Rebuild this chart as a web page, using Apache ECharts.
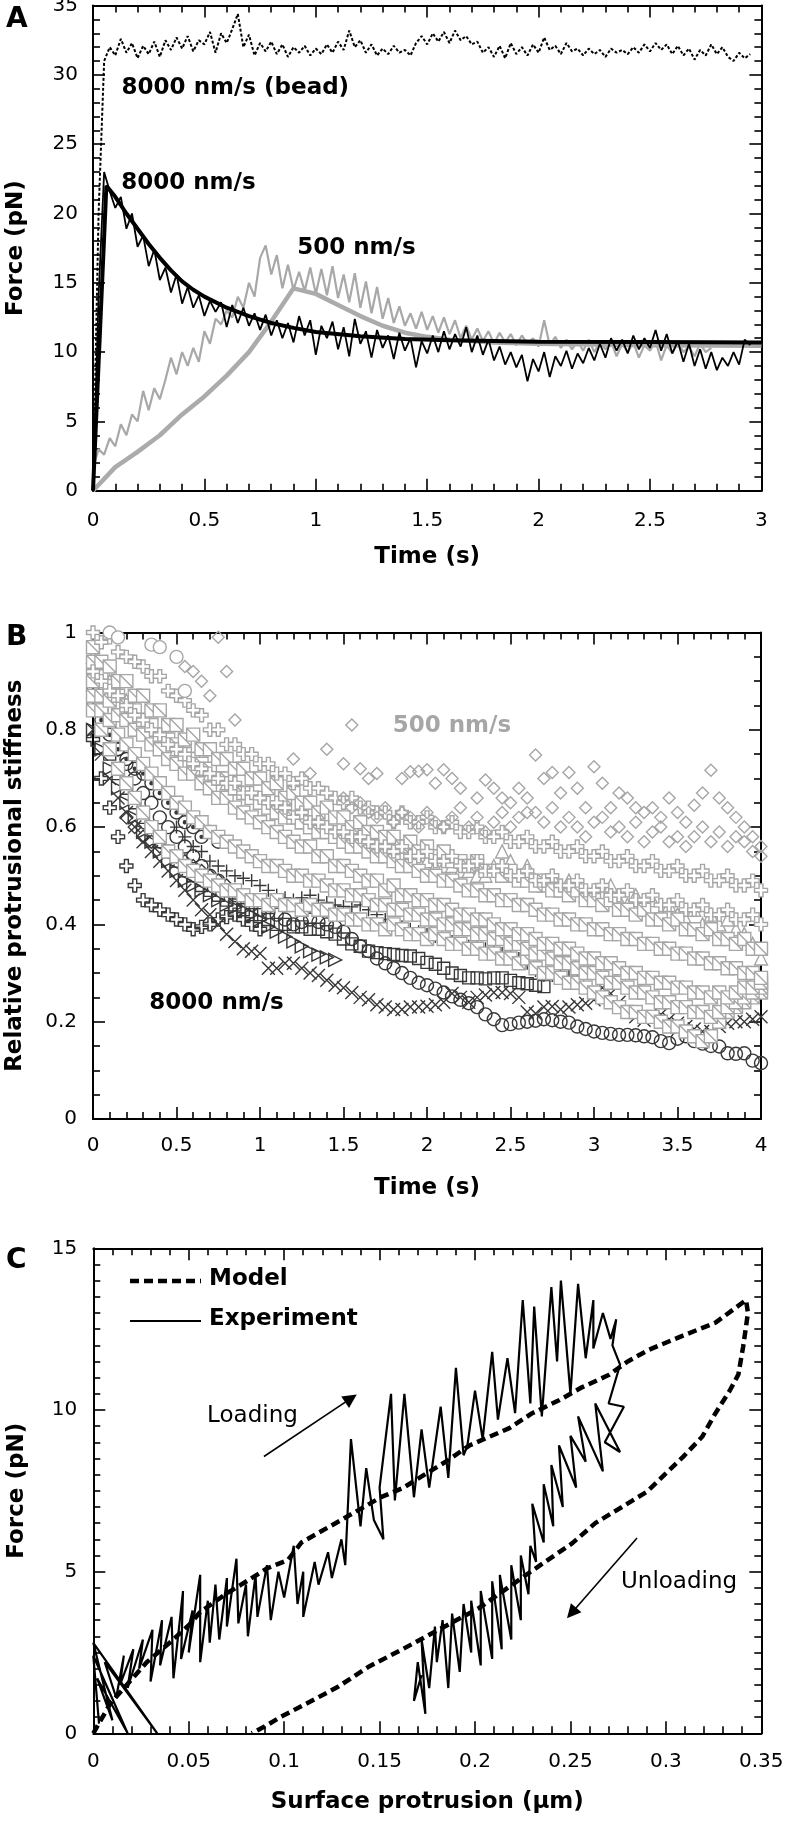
<!DOCTYPE html>
<html><head><meta charset="utf-8">
<script src="https://cdn.jsdelivr.net/npm/echarts@6/dist/echarts.min.js"></script>
<style>html,body{margin:0;padding:0;background:#fff}#c{width:786px;height:1822px}</style>
</head><body><div id="c"></div>
<script>
// ---------------- Panel A data ----------------
const tA = [0,0.025,0.05,0.075,0.1,0.125,0.15,0.175,0.2,0.225,
0.25,0.275,0.3,0.325,0.35,0.375,0.4,0.425,0.45,0.475,
0.5,0.525,0.55,0.575,0.6,0.625,0.65,0.675,0.7,0.725,
0.75,0.775,0.8,0.825,0.85,0.875,0.9,0.925,0.95,0.975,
1,1.025,1.05,1.075,1.1,1.125,1.15,1.175,1.2,1.225,
1.25,1.275,1.3,1.325,1.35,1.375,1.4,1.425,1.45,1.475,
1.5,1.525,1.55,1.575,1.6,1.625,1.65,1.675,1.7,1.725,
1.75,1.775,1.8,1.825,1.85,1.875,1.9,1.925,1.95,1.975,
2,2.025,2.05,2.075,2.1,2.125,2.15,2.175,2.2,2.225,
2.25,2.275,2.3,2.325,2.35,2.375,2.4,2.425,2.45,2.475,
2.5,2.525,2.55,2.575,2.6,2.625,2.65,2.675,2.7,2.725,
2.75,2.775,2.8,2.825,2.85,2.875,2.9,2.925,2.95];
const beadF = [0,20,31.0,32.0,31.4,32.6,31.6,32.3,31.2,32.1,
31.5,32.4,31.3,32.5,31.8,32.7,31.9,32.8,31.7,32.5,
32.2,33.1,31.6,33.0,32.3,33.3,34.4,32.0,32.9,31.4,
32.3,31.7,32.4,31.5,32.2,31.3,32.0,31.6,32.1,31.4,
31.9,31.5,32.2,31.6,32.4,31.8,33.2,32.0,32.5,31.6,
32.2,31.4,31.9,31.5,32.1,31.6,31.8,31.4,32.3,32.8,
32.2,33.0,32.4,33.1,32.3,33.2,32.5,32.8,32.2,32.4,
31.6,32.0,31.3,32.1,31.2,32.3,31.5,32.0,31.4,32.2,
31.6,32.7,31.8,32.1,31.5,32.3,31.7,31.9,31.4,31.9,
31.5,31.8,31.3,31.9,31.6,31.8,31.5,32.0,31.6,32.2,
31.7,32.3,31.8,32.2,31.5,32.1,31.4,31.9,31.1,31.8,
31.4,32.2,31.5,32.0,31.3,31.0,31.6,31.2,31.5];
const exp8000F = [0,14,23.0,21.6,20.4,21.2,18.9,20.0,17.6,18.4,
16.2,17.4,15.2,16.1,14.3,15.6,13.5,14.7,13.2,14.1,
12.6,13.7,12.9,13.6,11.8,13.4,12.1,13.2,11.9,12.8,
11.6,12.7,11.2,12.3,11.0,12.1,10.7,12.6,11.2,12.3,
9.8,11.9,11.0,12.2,10.2,11.8,9.7,12.4,10.6,11.5,
9.6,11.6,10.3,11.2,9.5,11.4,10.1,11.0,8.9,10.8,
9.9,11.2,10.0,11.5,10.2,11.3,10.4,11.8,10.0,11.2,
9.8,10.9,9.4,10.4,9.1,10.0,8.9,9.8,7.9,9.5,
8.6,10.0,8.2,9.7,9.0,10.1,8.8,9.9,9.2,10.3,
9.4,10.6,9.6,11.0,10.1,10.9,9.9,11.2,10.2,11.0,
10.3,11.6,10.1,11.3,9.9,10.8,9.3,10.6,9.0,10.2,
8.8,10.0,8.7,9.6,9.0,10.0,9.1,10.9,10.5];
const exp500F = [1.6,3.0,2.6,3.8,3.2,4.8,4.0,5.5,5.0,7.2,
5.8,7.4,6.6,8.0,9.6,8.4,10.0,9.0,10.3,9.3,
11.5,10.6,12.4,12.0,13.0,12.5,14.0,13.2,15.0,14.0,
16.8,17.7,15.6,17.0,14.6,16.3,14.5,15.8,14.4,16.1,
14.2,16.0,14.1,16.2,13.9,15.6,13.6,15.7,13.2,15.1,
12.8,14.7,12.4,13.9,12.1,13.3,11.9,12.8,11.7,12.9,
11.6,12.6,11.4,12.5,11.3,12.3,11.0,11.9,10.9,11.7,
10.8,11.5,10.6,11.4,10.7,11.3,10.5,11.2,10.6,11.0,
10.4,12.3,10.5,11.1,10.3,10.9,10.2,10.8,10.1,10.9,
10.0,10.7,10.2,10.8,9.7,10.6,10.0,10.7,9.6,10.5,
10.1,10.8,9.4,10.5,9.9,10.7,10.0,10.4,9.7,10.6,
10.0,10.3];
const fit8000T = [0,0.06,0.1,0.15,0.2,0.25,0.3,0.35,0.4,0.45,0.5,0.6,0.7,0.8,0.9,1.0,1.2,1.4,1.6,1.8,2.0,2.5,3.0];
const fit8000F = [0,22.0,21.2,20.0,18.9,17.8,16.8,15.9,15.1,14.5,14.0,13.2,12.6,12.1,11.75,11.45,11.15,10.95,10.85,10.8,10.75,10.72,10.7];
const fit500T = [0,0.1,0.2,0.3,0.4,0.5,0.6,0.7,0.8,0.9,1.0,1.1,1.2,1.3,1.4,1.5,1.6,1.8,2.0,2.5,3.0];
const fit500F = [0,1.7,2.8,4.0,5.5,6.8,8.3,10.0,12.2,14.6,14.2,13.4,12.6,11.9,11.4,11.1,10.9,10.7,10.6,10.5,10.45];

// ---------------- Panel B data ----------------
const tB = [0,0.05,0.1,0.15,0.2,0.25,0.3,0.35,0.4,0.45,0.5,0.55,0.6,0.65,0.7,0.75,0.8,0.85,0.9,0.95,
1,1.05,1.1,1.15,1.2,1.25,1.3,1.35,1.4,1.45,1.5,1.55,1.6,1.65,1.7,1.75,1.8,1.85,1.9,1.95,
2,2.05,2.1,2.15,2.2,2.25,2.3,2.35,2.4,2.45,2.5,2.55,2.6,2.65,2.7,2.75,2.8,2.85,2.9,2.95,
3,3.05,3.1,3.15,3.2,3.25,3.3,3.35,3.4,3.45,3.5,3.55,3.6,3.65,3.7,3.75,3.8,3.85,3.9,3.95,4];
// 8000 nm/s (dark)
const dCircle = [0.88,0.84,0.80,0.76,0.73,0.70,0.67,0.65,0.62,0.60,
0.58,0.56,0.54,0.52,0.50,0.49,0.47,0.46,0.45,0.44,
0.43,0.425,0.42,0.41,0.40,0.405,0.41,0.405,0.40,0.395,
0.385,0.37,0.355,0.345,0.33,0.32,0.31,0.30,0.29,0.28,
0.275,0.268,0.26,0.252,0.245,0.238,0.23,0.215,0.205,0.193,
0.195,0.198,0.20,0.202,0.205,0.203,0.20,0.198,0.19,0.185,
0.18,0.177,0.175,0.173,0.173,0.172,0.17,0.168,0.16,0.156,
0.165,0.17,0.16,0.155,0.15,0.149,0.135,0.134,0.135,0.12,0.115];
const dCircleDot = [null,0.82,0.79,0.76,0.74,0.72,0.71,0.69,0.67,0.65,0.63,0.61,0.60,0.58,0.59,0.57];
const dCross = [0.80,0.75,0.70,0.66,0.63,0.60,0.57,0.55,0.53,0.51,
0.49,0.47,0.45,0.43,0.42,0.40,0.38,0.365,0.35,0.345,
0.34,0.31,0.31,0.32,0.32,0.31,0.30,0.295,0.285,0.275,
0.27,0.26,0.25,0.245,0.235,0.23,0.225,0.225,0.23,0.23,
0.232,0.235,0.24,0.258,0.25,0.24,0.25,0.255,0.26,0.26,
0.258,0.25,0.22,0.217,0.23,0.231,0.225,0.23,0.235,0.238,
0.245,0.27,0.258,0.24,0.22,0.21,0.203,0.21,0.215,0.205,
0.197,0.19,0.185,0.18,0.18,0.19,0.197,0.20,0.20,0.205,0.21];
const dSquare = [0.85,0.80,0.75,0.71,0.68,0.65,0.62,0.60,0.57,0.55,
0.53,0.51,0.50,0.48,0.47,0.46,0.45,0.44,0.43,0.42,
0.42,0.41,0.40,0.40,0.395,0.395,0.39,0.39,0.385,0.38,
0.37,0.36,0.355,0.345,0.342,0.34,0.338,0.336,0.335,0.33,
0.322,0.318,0.31,0.30,0.295,0.29,0.29,0.288,0.29,0.29,
0.285,0.28,0.278,0.275,0.272];
const dTriangle = [0.80,0.76,0.72,0.68,0.65,0.62,0.59,0.57,0.55,0.53,
0.51,0.49,0.48,0.47,0.46,0.45,0.44,0.435,0.43,0.42,
0.41,0.395,0.385,0.375,0.365,0.355,0.345,0.338,0.332,0.327];
const dOpenPlus = [0.78,0.70,0.64,0.58,0.52,0.48,0.45,0.44,0.43,0.42,
0.41,0.40,0.39,0.395,0.40,0.41,0.415,0.42,0.41,0.40,0.39];
const dPlus = [null,null,null,null,null,null,null,null,null,null,
0.60,0.58,0.56,0.55,0.53,0.52,0.51,0.50,0.495,0.49,
0.48,0.47,0.46,0.455,0.45,0.455,0.46,0.45,0.445,0.44,
0.437,0.436,0.44,0.43,0.42,0.41,0.40,0.395,0.39,0.385,
0.38,0.375,0.37,0.365,0.36,0.355,0.352,0.35,0.343,0.34,
0.34,0.33,0.32,0.305,0.295,0.295,0.295,0.293,0.29];
const dDiamond = [null,null,null,null,0.62,0.60,0.58,0.57,0.56,0.55,
0.54,0.53,0.52,0.51,0.50,0.49,0.48,0.47,0.46];
// 500 nm/s (gray)
const gPlusHi = [1.00,0.98,0.99,0.96,0.95,0.94,0.93,0.91,0.91,0.88,
0.87,0.86,0.84,0.83,0.80,0.80,0.77,0.77,0.75,0.75,
0.73,0.73,0.71,0.71,0.69,0.70,0.68,0.68,0.67,0.66,
0.65,0.66,0.64,0.64,0.63,0.63,0.61,0.63,0.61,0.61,
0.62,0.60,0.60,0.61,0.59,0.59,0.60,0.58,0.58,0.59,
0.57,0.57,0.58,0.56,0.56,0.57,0.55,0.55,0.56,0.54,
0.54,0.55,0.53,0.53,0.54,0.52,0.52,0.53,0.51,0.51,
0.52,0.50,0.50,0.51,0.49,0.49,0.50,0.48,0.48,0.49,0.47];
const gPlusLo = [0.92,0.90,0.88,0.87,0.85,0.83,0.82,0.80,0.79,0.77,
0.76,0.75,0.73,0.72,0.71,0.70,0.69,0.69,0.67,0.67,
0.66,0.65,0.65,0.64,0.62,0.63,0.61,0.61,0.60,0.59,
0.59,0.58,0.58,0.57,0.56,0.56,0.55,0.56,0.54,0.54,
0.55,0.53,0.53,0.54,0.52,0.52,0.53,0.51,0.51,0.52,
0.50,0.50,0.51,0.49,0.49,0.50,0.48,0.48,0.49,0.47,
0.47,0.48,0.46,0.46,0.47,0.45,0.45,0.46,0.44,0.44,
0.45,0.43,0.43,0.44,0.42,0.42,0.43,0.41,0.41,0.42,0.40];
const gSquareA = [0.97,0.94,0.93,0.90,0.90,0.87,0.87,0.84,0.84,0.81,
0.81,0.78,0.79,0.76,0.76,0.74,0.74,0.72,0.72,0.70,
0.70,0.68,0.69,0.66,0.67,0.65,0.65,0.63,0.64,0.62,
0.62,0.60,0.61,0.59,0.59,0.58,0.58,0.56,0.57,0.55,
0.56,0.54,0.55,0.53,0.53,0.52,0.53,0.51,0.51,0.50,
0.51,0.49,0.49,0.48,0.49,0.47,0.47,0.46,0.47,0.45,
0.45,0.44,0.45,0.43,0.43,0.42,0.43,0.41,0.41,0.40,
0.41,0.39,0.39,0.38,0.39,0.37,0.37,0.36,0.37,0.35,0.35];
const gSquareE = [0.94,0.91,0.89,0.87,0.85,0.84,0.82,0.81,0.79,0.78,
0.77,0.75,0.74,0.73,0.72,0.70,0.70,0.68,0.67,0.66,
0.65,0.64,0.63,0.62,0.62,0.61,0.60,0.59,0.59,0.58,
0.57,0.56,0.56,0.55,0.54,0.54,0.53,0.52,0.52,0.51,
0.50,0.50,0.49,0.49,0.48,0.47,0.47,0.46,0.46,0.45,
0.45,0.44,0.44,0.43,0.42,0.42,0.41,0.41,0.40,0.40,
0.39,0.39,0.38,0.38,0.37,0.37,0.36,0.36,0.35,0.35,
0.34,0.34,0.33,0.33,0.32,0.32,0.31,0.31,0.30,0.30,0.29];
const gSquareB = [0.90,0.87,0.86,0.83,0.82,0.80,0.79,0.77,0.76,0.74,
0.73,0.71,0.71,0.69,0.68,0.66,0.66,0.64,0.63,0.62,
0.61,0.60,0.59,0.58,0.57,0.56,0.56,0.54,0.54,0.52,
0.52,0.51,0.50,0.49,0.49,0.47,0.48,0.46,0.46,0.45,
0.45,0.44,0.44,0.43,0.42,0.42,0.41,0.41,0.40,0.39,
0.39,0.38,0.38,0.37,0.36,0.36,0.35,0.35,0.34,0.33,
0.33,0.32,0.32,0.31,0.30,0.30,0.29,0.29,0.28,0.28,
0.27,0.27,0.26,0.26,0.25,0.26,0.25,0.26,0.27,0.27,0.28];
const gSquareD = [0.87,0.84,0.82,0.79,0.77,0.75,0.73,0.71,0.69,0.67,
0.65,0.64,0.62,0.61,0.59,0.58,0.57,0.56,0.55,0.54,
0.53,0.52,0.52,0.51,0.50,0.50,0.49,0.49,0.48,0.47,
0.47,0.46,0.46,0.45,0.44,0.44,0.43,0.43,0.42,0.42,
0.41,0.41,0.40,0.40,0.39,0.39,0.38,0.38,0.37,0.37,
0.36,0.36,0.35,0.34,0.34,0.33,0.32,0.32,0.31,0.30,
0.30,0.29,0.28,0.28,0.27,0.26,0.26,0.25,0.24,0.24,
0.23,0.23,0.22,0.22,0.21,0.22,0.23,0.24,0.25,0.26,0.27];
const gSquareC = [0.84,0.80,0.76,0.72,0.69,0.66,0.63,0.60,0.58,0.55,
0.54,0.52,0.51,0.50,0.49,0.48,0.47,0.47,0.46,0.45,
0.45,0.44,0.45,0.44,0.44,0.43,0.44,0.43,0.43,0.42,
0.42,0.41,0.41,0.40,0.40,0.39,0.40,0.39,0.38,0.38,
0.37,0.38,0.37,0.36,0.36,0.35,0.35,0.34,0.34,0.33,
0.33,0.32,0.33,0.31,0.30,0.30,0.29,0.28,0.28,0.27,
0.26,0.25,0.24,0.23,0.22,0.22,0.21,0.21,0.20,0.19,
0.19,0.18,0.17,0.16,0.17,0.20,0.22,0.23,0.24,0.25,0.26];
const gTriangle = [0.95,0.92,0.90,0.88,0.86,0.84,0.82,0.81,0.79,0.78,
0.76,0.75,0.74,0.72,0.71,0.70,0.69,0.68,0.67,0.66,
0.65,0.64,0.63,0.63,0.62,0.61,0.60,0.60,0.59,0.58,
0.58,0.57,0.57,0.56,0.56,0.55,0.55,0.54,0.54,0.53,
0.53,0.52,0.52,0.52,0.51,0.51,0.50,0.50,0.52,0.55,
0.53,0.50,0.52,0.49,0.48,0.50,0.47,0.49,0.48,0.46,
0.47,0.46,0.48,0.45,0.44,0.46,0.43,0.45,0.42,0.44,
0.42,0.41,0.43,0.40,0.42,0.40,0.41,0.39,0.38,0.36,0.33];
const gCircle = [null,null,1.0,0.99,null,null,null,0.975,0.97,null,0.95,0.88];
const gDiamondHi = [null,null,null,null,null,null,null,null,null,null,
null,0.93,0.92,0.90,0.87,0.99,0.92,0.82,null,null,
null,null,null,null,0.74,null,0.71,null,0.76,null,
0.73,0.81,0.72,0.70,0.71,null,null,0.70,0.714,0.715,
0.718,0.69,0.718,0.70,0.68,null,0.66,0.697,0.68,0.66,
0.65,0.68,0.63,0.748,0.70,0.712,0.67,0.712,0.68,0.64,
0.724,0.69,0.64,0.67,0.66,0.64,0.63,0.64,0.62,0.66,
0.63,0.61,0.645,0.67,0.717,0.66,0.64,0.62,0.60,0.58,0.56];
const gDiamondLo = [null,null,null,null,null,null,null,null,null,null,
null,null,null,null,null,null,null,null,null,null,
null,null,null,null,null,null,null,null,null,null,
0.66,0.64,0.65,0.63,0.62,0.64,0.61,0.63,0.62,0.60,
0.63,0.61,0.60,0.62,0.64,0.60,0.62,0.59,0.61,0.63,
0.60,0.62,0.66,0.63,0.61,0.64,0.60,0.62,0.60,0.58,
0.61,0.62,0.59,0.60,0.58,0.61,0.57,0.59,0.60,0.57,
0.58,0.56,0.58,0.60,0.57,0.59,0.56,0.58,0.57,0.55,0.54];

// ---------------- Panel C data ----------------
const modelX = [0,0.009,0.021,0.028,0.04,0.051,0.056,0.07,0.077,0.091,0.102,0.109,0.13,0.151,0.162,0.186,0.197,0.218,0.23,0.244,0.256,0.27,0.28,0.291,0.309,0.326,0.342,
0.343,0.3405,0.338,0.3335,0.326,0.319,0.309,0.3,0.29,0.277,0.263,0.251,0.228,0.202,0.179,0.162,0.144,0.128,0.112,0.098,0.0895,0.083];
const modelF = [0,0.93,1.73,2.2,2.8,3.4,3.75,4.33,4.58,5.1,5.36,5.9,6.6,7.31,7.58,8.45,8.9,9.44,9.9,10.3,10.7,11.08,11.5,11.86,12.3,12.7,13.4,
13.0,11.96,11.1,10.6,9.9,9.17,8.55,8.04,7.47,7.0,6.5,5.88,4.95,3.87,3.14,2.6,2.05,1.43,0.93,0.5,0.2,0];
const expX = [0.003,0,0.018,0.002,0.010,0,0.0335,0.006,0.012,0.016,0.014,0.021,0.018,0.026,0.024,0.031,0.03,0.036,0.035,0.041,
0.042,0.047,0.046,0.052,0.05,0.056,0.056,0.06,0.061,0.064,0.066,0.07,0.07,0.075,0.076,0.08,0.081,0.085,0.086,0.091,
0.093,0.097,0.1,0.105,0.107,0.11,0.11,0.116,0.118,0.123,0.125,0.13,0.132,0.135,0.14,0.143,0.147,0.152,0.15,0.156,
0.158,0.163,0.168,0.172,0.176,0.182,0.186,0.19,0.194,0.196,0.2,0.204,0.209,0.212,0.217,0.221,0.225,0.229,0.231,0.235,
0.24,0.243,0.245,0.25,0.254,0.258,0.262,0.262,0.267,0.271,0.274,0.272,0.276,
0.27,0.278,0.268,0.276,0.263,0.267,0.254,0.258,0.25,0.253,0.244,0.246,0.24,0.241,0.236,0.236,0.23,0.232,0.229,0.228,
0.224,0.224,0.219,0.219,0.213,0.214,0.209,0.209,0.203,0.203,0.198,0.198,0.194,0.192,0.188,0.186,0.183,0.18,0.179,0.176,
0.172,0.174,0.17,0.168,0.172];
const expF = [0.3,2.4,0,1.7,0.4,2.8,0,2.2,1.1,2.4,1.5,2.6,1.4,2.9,2.0,3.2,1.6,3.5,2.1,3.6,
1.7,4.4,2.3,3.8,2.5,4.9,2.2,4.1,2.8,4.6,2.9,4.8,3.3,5.4,3.4,4.6,3.0,4.9,3.6,5.2,
3.5,5.0,4.2,5.8,4.0,5.0,3.6,5.3,4.6,5.6,4.8,6.0,5.2,9.1,6.4,8.2,6.6,6.0,7.6,10.5,
7.2,10.5,7.3,9.4,7.6,10.1,7.9,11.3,8.6,8.9,10.6,9.1,11.8,9.7,11.6,9.9,13.4,10.2,13.2,9.8,
13.8,11.5,14.0,10.5,13.9,11.6,13.4,11.9,13.0,12.2,12.8,12.0,11.4,
10.2,10.1,9.0,8.7,10.2,8.1,9.8,8.4,9.2,7.6,8.9,7.0,8.3,6.4,7.7,5.9,7.1,5.3,5.8,4.3,
5.5,3.5,5.2,2.9,4.9,2.6,4.7,2.3,4.4,2.1,4.1,2.5,4.0,1.9,3.7,1.4,3.5,2.2,3.3,1.4,
2.9,0.6,2.2,1.0,1.8];

// ---------------- annotations (text anchors in data units) ----------------
const notesA = [
  {text:'8000 nm/s (bead)', x:0.639, y:29.05, color:'#000'},
  {text:'8000 nm/s', x:0.428, y:22.2, color:'#000'},
  {text:'500 nm/s', x:1.182, y:17.5, color:'#000'}
];
const notesB = [
  {text:'500 nm/s', x:2.149, y:0.808, color:'#a6a6a6'},
  {text:'8000 nm/s', x:0.74, y:0.238, color:'#000'}
];
const notesC = [
  {text:'Loading', x:0.0834, y:9.81, color:'#000', bold:false},
  {text:'Unloading', x:0.3069, y:4.69, color:'#000', bold:false}
];
const arrowsC = [
  [[0.0894,8.56],[0.135,10.36]],
  [[0.2849,6.04],[0.2506,3.72]]
];
const legendNames = ['Model','Experiment'];

// ---------------- build ----------------
const FONT = '"DejaVu Sans", sans-serif';
function pairs(xs, ys){ const o=[]; for(let i=0;i<ys.length;i++){ if(ys[i]!=null) o.push([xs[i], ys[i]]);} return o; }

function axis(kind, grid, min, max, step, minor, pos, margin, name, gap){
  const show = (pos==='bottom'||pos==='left');
  return {
    type:'value', gridIndex:grid, position:pos, min:min, max:max, interval:step,
    axisLine:{show:true,onZero:false,lineStyle:{color:'#000',width:2}},
    axisTick:{show:true,inside:true,length:12,lineStyle:{color:'#000',width:1.6}},
    minorTick:{show:true,splitNumber:minor,length:7,lineStyle:{color:'#000',width:1.6}},
    splitLine:{show:false}, minorSplitLine:{show:false},
    axisLabel:{show:show,color:'#000',fontFamily:FONT,fontSize:20,margin:margin||8},
    name: show ? (name||'') : '', nameLocation:'middle', nameGap: gap||0,
    nameTextStyle:{fontFamily:FONT,fontWeight:'bold',fontSize:23,color:'#000'}
  };
}

const grids = [
  {left:93, top:5.6, width:668.4, height:485.1, outerBoundsMode:'none'},
  {left:93, top:632.5, width:668, height:486.5, outerBoundsMode:'none'},
  {left:93.3, top:1248.3, width:668, height:485, outerBoundsMode:'none'}
];
const xAxes = [
  axis('x',0,0,3,0.5,5,'bottom',20,'Time (s)',55),
  axis('x',0,0,3,0.5,5,'top'),
  axis('x',1,0,4,0.5,5,'bottom',17,'Time (s)',58),
  axis('x',1,0,4,0.5,5,'top'),
  axis('x',2,0,0.35,0.05,5,'bottom',18,'Surface protrusion (\u03bcm)',57),
  axis('x',2,0,0.35,0.05,5,'top')
];
const yAxes = [
  axis('y',0,0,35,5,5,'left',15,'Force (pN)',65),
  axis('y',0,0,35,5,5,'right'),
  axis('y',1,0,1,0.2,4,'left',16,'Relative protrusional stiffness',66),
  axis('y',1,0,1,0.2,4,'right'),
  axis('y',2,0,15,5,10,'left',16,'Force (pN)',65),
  axis('y',2,0,15,5,10,'right')
];

const series = [];
function line(name, xi, data, color, width, type, z){
  series.push({type:'line', name:name, xAxisIndex:xi, yAxisIndex:xi, data:data, showSymbol:false, symbol:'none',
    lineStyle:{color:color, width:width, type:type||'solid'}, itemStyle:{color:color}, z:z||2, silent:true, animation:false});
}
// Panel A
line('a500exp',0,pairs(tA,exp500F),'#a8a8a8',2.2);
line('a500fit',0,pairs(fit500T,fit500F),'#ababab',4.5);
line('a8000exp',0,pairs(tA,exp8000F),'#000',1.8);
line('a8000fit',0,pairs(fit8000T,fit8000F),'#000',4);
line('abead',0,pairs(tA,beadF),'#000',2,[3,2]);

// Panel B
const DK = '#383838', GR = '#a6a6a6';
const SYM = {
  sq:'path://M0,0H10V10H0ZM0,0L10,10',
  box:'rect',
  oplus:'path://M3.5,0H6.5V3.5H10V6.5H6.5V10H3.5V6.5H0V3.5H3.5Z',
  x:'path://M0,0L10,10M10,0L0,10',
  plus:'path://M5,0V10M0,5H10',
  tri:'triangle',
  rtri:'path://M0,0L10,5L0,10Z',
  dia:'diamond',
  circ:'circle'
};
function scat(name, vals, sym, size, stroke, fill){
  series.push({type:'scatter', name:name, xAxisIndex:2, yAxisIndex:2, data:pairs(tB, vals),
    symbol:sym, symbolSize:size, clip:false, silent:true, animation:false,
    itemStyle:{color:fill, borderColor:stroke, borderWidth:1.4, opacity:1}});
}
const CLR = 'rgba(0,0,0,0)';
scat('dOpenPlus', dOpenPlus, SYM.oplus, 13, DK, CLR);
scat('dDiamond', dDiamond, SYM.dia, 13, DK, CLR);
scat('dTri', dTriangle, SYM.rtri, 13, DK, CLR);
scat('dSq', dSquare, SYM.box, 12, DK, CLR);
scat('dPlus', dPlus, SYM.plus, 13, DK, CLR);
scat('dX', dCross, SYM.x, 13, DK, CLR);
scat('dCirc', dCircle, SYM.circ, 13, DK, CLR);
scat('dCircDot', dCircleDot, SYM.circ, 13, DK, CLR);
scat('dDot', dCircleDot, SYM.circ, 3, DK, DK);
scat('gSqC', gSquareC, SYM.sq, 13, GR, '#fff');
scat('gSqD', gSquareD, SYM.sq, 13, GR, '#fff');
scat('gSqB', gSquareB, SYM.sq, 13, GR, '#fff');
scat('gTri', gTriangle, SYM.tri, 13, GR, '#fff');
scat('gSqE', gSquareE, SYM.sq, 13, GR, '#fff');
scat('gSqA', gSquareA, SYM.sq, 13, GR, '#fff');
scat('gPlusLo', gPlusLo, SYM.oplus, 13, GR, '#fff');
scat('gPlusHi', gPlusHi, SYM.oplus, 13, GR, '#fff');
scat('gCirc', gCircle, SYM.circ, 13, GR, '#fff');
scat('gDiaLo', gDiamondLo, SYM.dia, 12, GR, CLR);
scat('gDiaHi', gDiamondHi, SYM.dia, 12, GR, CLR);

// Panel C
series.push({type:'line', name:legendNames[0], xAxisIndex:4, yAxisIndex:4, data:pairs(modelX, modelF), showSymbol:false, symbol:'none',
  lineStyle:{color:'#000', width:4.5, type:[9,5]}, itemStyle:{color:'#000'}, silent:true, animation:false,
  markLine:{silent:true, animation:false, symbol:['none','triangle'], symbolSize:14, label:{show:false},
    lineStyle:{color:'#000', width:1.6, type:'solid', opacity:1},
    itemStyle:{color:'#000'},
    emphasis:{disabled:true},
    data: arrowsC.map(a => [{coord:a[0]},{coord:a[1]}])}
});
series.push({type:'line', name:legendNames[1], xAxisIndex:4, yAxisIndex:4, data:pairs(expX, expF), showSymbol:false, symbol:'none',
  lineStyle:{color:'#000', width:2.2}, itemStyle:{color:'#000'}, silent:true, animation:false});

// text notes
function notes(list, idx){
  list.forEach((n,i) => {
    series.push({type:'scatter', name:'note'+idx+'_'+i, xAxisIndex:idx, yAxisIndex:idx, data:[[n.x,n.y]], symbolSize:1,
      itemStyle:{color:'rgba(0,0,0,0)', opacity:1}, silent:true, animation:false, clip:false, z:10,
      label:{show:true, position:'inside', formatter:n.text, color:n.color, opacity:1, fontFamily:FONT,
        fontWeight:(n.bold===false?'normal':'bold'), fontSize:23}});
  });
}
notes(notesA,0); notes(notesB,2); notes(notesC,4);

const option = {
  animation:false,
  backgroundColor:'#fff',
  grid: grids,
  xAxis: xAxes,
  yAxis: yAxes,
  graphic:[
    {type:'text', left:6, top:6, style:{text:'A', font:'bold 28px "DejaVu Sans"', fill:'#000'}},
    {type:'text', left:6, top:624, style:{text:'B', font:'bold 28px "DejaVu Sans"', fill:'#000'}},
    {type:'text', left:6, top:1247, style:{text:'C', font:'bold 28px "DejaVu Sans"', fill:'#000'}},
    // legend for panel C
    {type:'line', shape:{x1:130, y1:1281, x2:201, y2:1281}, style:{stroke:'#000', lineWidth:4.5, lineDash:[9,5]}},
    {type:'text', left:209, top:1268, style:{text:legendNames[0], font:'bold 23px "DejaVu Sans"', fill:'#000'}},
    {type:'line', shape:{x1:130, y1:1321, x2:201, y2:1321}, style:{stroke:'#000', lineWidth:2}},
    {type:'text', left:209, top:1308, style:{text:legendNames[1], font:'bold 23px "DejaVu Sans"', fill:'#000'}}
  ],
  series: series
};
const chart = echarts.init(document.getElementById('c'), null, {renderer:'canvas', width:786, height:1822});
chart.setOption(option);
</script></body></html>
